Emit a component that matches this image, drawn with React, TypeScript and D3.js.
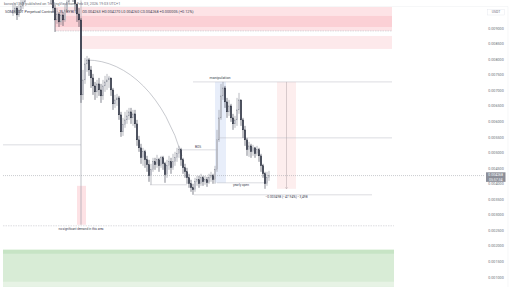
import React from "react";
import * as d3 from "d3";

// ---- price data (micro-USDT, i.e. value × 1e-6), one entry per 15m bar ----
const closesE6 = [9525,9653,9429,9589,9717,9846,10103,10295,10552,10713,10488,10809,10616,10873,10680,10488,10295,10392,10167,9974,9653,9268,9461,9204,9429,9268,9589,9846,10103,10231,10038,9782,9461,9268,6861,7342,7856,7984,7663,7406,7149,6957,7214,7021,6828,7149,7278,7342,7406,7021,6572,6700,6764,6219,5673,5898,6058,6186,6315,6122,6251,5930,5416,5159,4838,5031,4774,4614,4260,4453,4710,4614,4774,4581,4838,4646,4293,4581,4710,4517,4710,4838,4967,5095,4774,4517,4389,4196,4004,3875,3811,4068,4132,4004,4196,4068,4132,4036,4196,4260,4132,4453,5416,6122,6828,7085,6636,6315,6507,6122,5930,6058,6379,6700,6058,5737,5416,5095,5223,5031,5159,4967,5095,4902,4581,4325,4004,4196,4268];
const highsE6 = [9750,9814,9717,9782,9910,10071,10295,10552,10809,10937,10873,11034,10969,11130,11001,10809,10616,10552,10488,10295,10038,9750,9653,9525,9589,9525,9782,10038,10359,10488,10359,10103,9782,9653,9332,7663,8048,8112,8048,7791,7535,7278,7342,7406,7214,7342,7470,7535,7470,7406,7085,6861,6893,6828,6315,6122,6315,6379,6443,6443,6379,6379,6058,5544,5288,5159,5095,4902,4774,4646,4838,4838,4935,4838,4902,4902,4710,4774,4902,4838,4967,5031,5159,5223,5159,4838,4646,4517,4325,4132,4004,4196,4260,4260,4325,4260,4260,4228,4325,4389,4325,4581,5737,6379,7214,7278,7149,6764,6700,6572,6251,6186,6764,6925,6700,6122,5865,5480,5352,5288,5256,5191,5223,5159,4967,4646,4389,4389,4421];
const lowsE6 = [9396,9461,9268,9364,9525,9621,9782,10038,10231,10424,10295,10392,10359,10552,10424,10231,10071,10103,9974,9782,9525,8883,9140,9043,9108,9075,9204,9525,9782,9974,9846,9589,9204,9043,6604,6700,7214,7599,7470,7085,6861,6700,6764,6828,6604,6700,6957,7021,7085,6828,6379,6443,6507,6058,5512,5544,5801,5930,6058,5930,5865,5801,5223,5031,4646,4581,4517,4389,4068,3972,4389,4453,4517,4389,4517,4453,4036,4196,4453,4325,4453,4581,4710,4838,4581,4325,4196,4004,3875,3747,3650,3747,3939,3875,3939,3939,3972,3907,4004,4068,4004,4004,4389,5352,6058,6700,6443,6122,6186,5994,5737,5801,5865,6251,5865,5480,5223,4902,4870,4838,4902,4838,4902,4710,4389,4196,3843,3939,4100];
const firstOpenE6 = 9480;

const priceTicks = [0.009,0.0085,0.008,0.0075,0.007,0.0065,0.006,0.0055,0.005,0.0045,0.004,0.0035,0.003,0.0025,0.002,0.0015,0.001];
const lastPrice = 0.004268;
const countdown = "05:57:34";

const titleLine = "koroshi1968 published on TradingView.com, Feb 03, 2026 19:03 UTC+1";
const symbolLine = "SOMIUSDT Perpetual Contract · 15 · BYBIT";
const ohlcLine = "O0.004263 H0.004270 L0.004260 C0.004268 +0.000005 (+0.12%)";

// zones: bar-index extents and price extents
const zoneX0 = [21, 21, 34.5, -5, -5, -5, 101, 132, 32];
const zoneX1 = [189.5, 189.5, 189.5, 190.5, 190.5, 190.5, 106.5, 141.5, 36.5];
const zoneTop = [0.009685, 0.009396, 0.008754, 0.001885, 0.001885, 0.000858, 0.007278, 0.007278, 0.003939];
const zoneBottom = [0.008915, 0.009043, 0.008337, 0.000697, 0.001757, 0.000697, 0.004036, 0.003843, 0.002688];
const zoneFill = ["#fde3e6", "#fbd0d5", "#fde9eb", "#d8ecd6", "#c7e4c5", "#e7f3e5", "#e8eefa", "#fdeeee", "#fde2e5"];

// horizontal levels
const levelPrice = [0.008915, 0.007278, 0.00548, 0.005256, 0.005095, 0.003972, 0.004036, 0.00365, 0.002655];
const levelX0 = [21, 90, 102.5, -5, 84, 68.5, 102, 90.5, -5];
const levelX1 = [189.5, 189.5, 189.5, 34, 102.5, 87, 127, 179.5, 190.5];
const levelDash = ["1.5,1", "", "", "", "", "", "", "", "1.5,1"];

// text labels
const labelText = ["manipulation", "BOS", "yearly open", "−0.003498 (−47.94%) −3,498", "no significant demand in this area"];
const labelBar = [103.5, 92.5, 114, 136.75, 34];
const labelPrice = [0.00736, 0.00515, 0.00392, 0.00356, 0.00251];
const labelSize = [3.6, 3.2, 3.2, 3.3, 3.0];

// arc drawing (bar index / price anchors)
const arcStart = { bar: 37, price: 0.00798 };
const arcEnd = { bar: 84.5, price: 0.0049 };

const W = 512;
const H = 287;

export default function App() {
  const x = d3.scaleLinear().domain([0, 128]).range([13, 269]);
  const y = d3.scaleLinear().domain([0.001, 0.009]).range([277.3, 28.3]);
  const font = "Roboto, 'Liberation Sans', sans-serif";

  const candles = closesE6.map((c, i) => {
    const o = i === 0 ? firstOpenE6 : closesE6[i - 1];
    const h = Math.max(highsE6[i], o, c);
    const l = Math.min(lowsE6[i], o, c);
    return { i, o: o * 1e-6, c: c * 1e-6, h: h * 1e-6, l: l * 1e-6 };
  });

  // ellipse arc with horizontal tangent at start
  const xs = x(arcStart.bar), ys = y(arcStart.price);
  const xe = x(arcEnd.bar), ye = y(arcEnd.price);
  const dx = xe - xs;
  const rx = dx * 1.1;
  const s = Math.sqrt(1 - (dx / rx) ** 2);
  const ry = (ye - ys) / (1 - s);
  const arcPath = `M${xs},${ys} A${rx},${ry} 0 0 1 ${xe},${ye}`;

  const bw = 1.3;

  return (
    <svg
      width={W}
      height={H}
      style={{ position: "fixed", left: 0, top: 0, background: "#ffffff" }}
      fontFamily={font}
    >
      <rect x={0} y={0} width={W} height={H} fill="#ffffff" />
      <defs>
        <clipPath id="plot">
          <rect x={0} y={0} width={484} height={H} />
        </clipPath>
      </defs>
      {/* frame lines */}
      <line x1={0} x2={508} y1={6.5} y2={6.5} stroke="#f0f1f3" strokeWidth={0.6} />
      <line x1={508} x2={508} y1={6.5} y2={H} stroke="#f0f1f3" strokeWidth={0.6} />

      <g clipPath="url(#plot)">
        {zoneFill.map((f, k) => (
          <rect
            key={"z" + k}
            x={x(zoneX0[k])}
            width={x(zoneX1[k]) - x(zoneX0[k])}
            y={y(zoneTop[k])}
            height={y(zoneBottom[k]) - y(zoneTop[k])}
            fill={f}
          />
        ))}
        {levelPrice.map((p, k) => (
          <line
            key={"l" + k}
            x1={x(levelX0[k])}
            x2={x(levelX1[k])}
            y1={y(p)}
            y2={y(p)}
            stroke="#b8bbc3"
            strokeWidth={0.5}
            strokeDasharray={levelDash[k] || undefined}
          />
        ))}
        {/* current price line */}
        <line x1={x(-5)} x2={486} y1={y(lastPrice)} y2={y(lastPrice)} stroke="#9598a1" strokeWidth={0.5} strokeDasharray="1,1" />
        {/* vertical marker at the dump */}
        <line x1={x(34)} x2={x(34)} y1={y(0.0099)} y2={y(0.002688)} stroke="#9598a1" strokeWidth={0.6} />
        {/* measurement vertical */}
        <line x1={x(136.75)} x2={x(136.75)} y1={y(0.007278)} y2={y(0.003843)} stroke="#b3a7aa" strokeWidth={0.5} />
        <path
          d={`M${x(136.75) - 1.2},${y(0.003843) - 1.5} L${x(136.75)},${y(0.003843)} L${x(136.75) + 1.2},${y(0.003843) - 1.5}`}
          fill="none"
          stroke="#b3a7aa"
          strokeWidth={0.5}
        />
        {/* arc */}
        <path d={arcPath} fill="none" stroke="#a3a6ae" strokeWidth={0.6} />

        {/* candles */}
        {candles.map((d) => {
          const up = d.c >= d.o;
          const cx = x(d.i);
          const top = y(Math.max(d.o, d.c));
          const bot = y(Math.min(d.o, d.c));
          return (
            <g key={"c" + d.i}>
              <line x1={cx} x2={cx} y1={y(d.h)} y2={y(d.l)} stroke={up ? "#8a8e99" : "#2f3445"} strokeWidth={0.6} />
              <rect
                x={cx - bw / 2}
                width={bw}
                y={top}
                height={Math.max(0.5, bot - top)}
                fill={up ? "#d6d8de" : "#2a2f3f"}
                stroke={up ? "#8a8e99" : "#2a2f3f"}
                strokeWidth={0.3}
              />
            </g>
          );
        })}

        {labelText.map((t, k) => (
          <text
            key={"t" + k}
            x={x(labelBar[k])}
            y={y(labelPrice[k])}
            fontSize={labelSize[k]}
            textAnchor="middle"
            fill="#3c4050"
          >
            {t}
          </text>
        ))}
      </g>

      {/* legend */}
      <text x={4} y={5} fontSize={3.7} fill="#6a6d78">{titleLine}</text>
      <text x={5} y={13.2} fontSize={3.8} fill="#3c4050">
        {symbolLine}
        <tspan dx={6}>{ohlcLine}</tspan>
      </text>

      {/* price axis */}
      <rect x={487.5} y={9.5} width={17} height={5.5} fill="#ffffff" stroke="#e0e3eb" strokeWidth={0.4} />
      <text x={496} y={13.4} fontSize={3.4} textAnchor="middle" fill="#6a6d78">USDT</text>
      {priceTicks.map((t) => (
        <text key={"pt" + t} x={496} y={y(t) + 1.3} fontSize={3.7} textAnchor="middle" fill="#6a6d78">
          {t.toFixed(6)}
        </text>
      ))}
      <rect x={486} y={y(lastPrice) - 3.3} width={19.5} height={9.6} fill="#8c8f99" />
      <text x={495.7} y={y(lastPrice) + 0.8} fontSize={3.5} textAnchor="middle" fill="#ffffff">
        {lastPrice.toFixed(6)}
      </text>
      <text x={495.7} y={y(lastPrice) + 5} fontSize={3.5} textAnchor="middle" fill="#ffffff">
        {countdown}
      </text>
    </svg>
  );
}
